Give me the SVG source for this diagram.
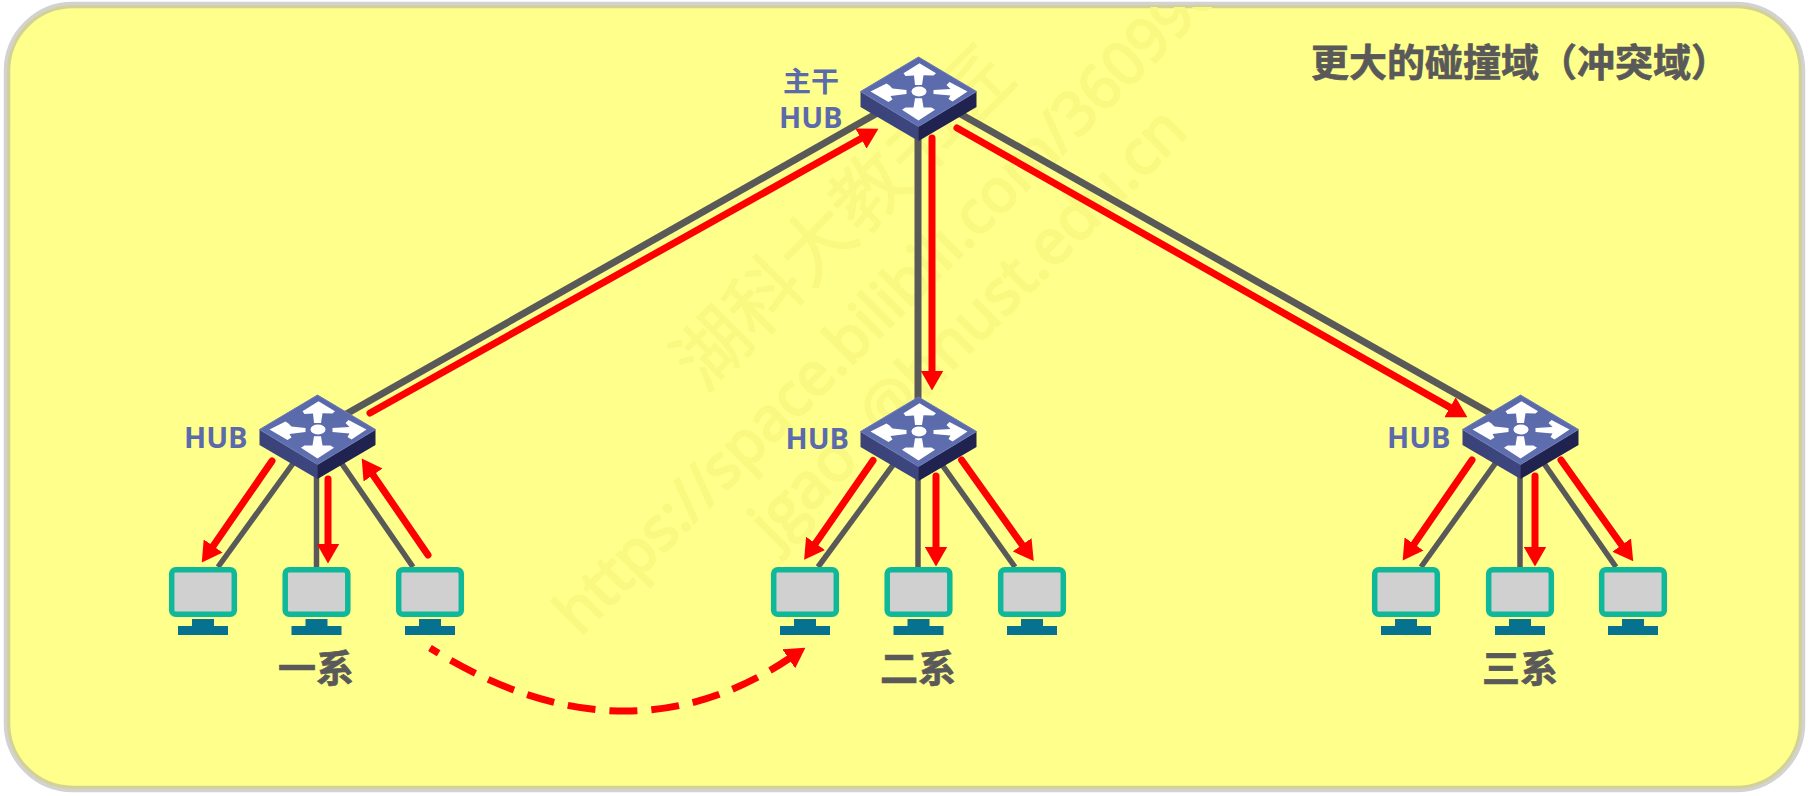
<svg xmlns="http://www.w3.org/2000/svg" width="1809" height="796" viewBox="0 0 1809 796">
<style>
.wm{fill:#f9f982;stroke:#f9f982;stroke-width:2.5;font-family:"Open Sans","Noto Sans",sans-serif;font-size:62px;font-weight:400}
.wmc{fill:#f9f982;stroke:#f9f982;stroke-width:1;font-family:"Noto Sans CJK SC",sans-serif;font-size:74px;font-weight:400}
.gl{stroke:#595959;stroke-width:5.5;fill:none}
.gt{stroke:#595959;stroke-width:7;fill:none}
.rl{stroke:#ff0000;stroke-width:7;fill:none;stroke-linecap:round;marker-end:url(#ah)}
.rd{stroke:#ff0000;stroke-width:7;fill:none;stroke-dasharray:28 14;stroke-dashoffset:18;marker-end:url(#ah)}
.hl{fill:#5b6aab;font-family:"Open Sans","Noto Sans",sans-serif;font-weight:700;font-size:29px}
.hc{fill:#5b6aab;font-family:"Noto Sans CJK SC",sans-serif;font-weight:700;font-size:28px}
.tt{fill:#595959;stroke:#595959;stroke-width:0.7;font-family:"Noto Sans CJK SC",sans-serif;font-weight:700;font-size:38px}
</style>
<defs>
<marker id="ah" markerUnits="userSpaceOnUse" markerWidth="21" markerHeight="23" refX="1.5" refY="11.5" orient="auto"><path d="M0,0 L20,11.5 L0,23 Z" fill="#ff0000"/></marker>
<clipPath id="inner"><rect x="7" y="7" width="1795" height="782" rx="66" ry="66"/></clipPath>
<linearGradient id="hf" x1="0" y1="0" x2="0" y2="1"><stop offset="0" stop-color="#5868a8"/><stop offset="1" stop-color="#5f6fb0"/></linearGradient>
<linearGradient id="hs" x1="0" y1="0" x2="1" y2="0"><stop offset="0" stop-color="#3a4278"/><stop offset="1" stop-color="#3e4680"/></linearGradient>
<g id="hub">
<path d="M-58,34.5 L0,69.5 L0,84 L-58,50 Z" fill="url(#hs)"/>
<path d="M58,34.5 L0,69.5 L0,84 L58,50 Z" fill="#20224f"/>
<path d="M0,0 L58,34.5 L0,69.5 L-58,34.5 Z" fill="url(#hf)" stroke="#6b7ab8" stroke-width="1"/>
<g transform="translate(0,34.5)" fill="#ffffff">
<ellipse cx="0.5" cy="0" rx="7.5" ry="5"/>
<path d="M1,-28.3 L17.5,-18.3 L15,-16 L5,-16.3 L3.5,-6.5 L-3.5,-6.5 L-4.5,-16 L-13,-15.5 L-15,-18.3 Z"/>
<path d="M0,29 L16.5,18.3 L13,16 L5,16 L3.5,6.7 L-3.5,6.7 L-5,16 L-13,16 L-16.5,18.3 Z"/>
<path d="M-48,0 L-32,-8 L-29,-6 L-26,-3 L-12,-1.5 L-12,2.5 L-28,4.5 L-26,8 L-30,10.5 Z"/>
<path d="M49,0 L31,-9.5 L28,-6.5 L32,-2.5 L15,-1.5 L15,2.5 L32,4 L30,7.5 L34,10 Z"/>
</g>
</g>
<g id="pc">
<rect x="-31.3" y="2.7" width="62.6" height="44.6" rx="4" fill="#d0d0d0" stroke="#10b89a" stroke-width="5.5"/>
<rect x="-11" y="52" width="22" height="8" fill="#06728f"/>
<rect x="-25" y="59" width="50" height="9" fill="#06728f"/>
</g>
</defs>
<rect id="background" x="7" y="5" width="1795" height="784" rx="66" ry="66" fill="#ffff8b" stroke="#a6a6a6" stroke-opacity="0.5" stroke-width="6.5"/>
<g id="watermark" clip-path="url(#inner)">
<text class="wmc" transform="translate(704.5,393.5) rotate(-45)">湖科大教书匠</text>
<text class="wm" style="font-size:60px" transform="translate(580,637) rotate(-45)">https://space.bilibili.com/360996</text>
<text class="wm" style="word-spacing:17px" transform="translate(775,548) rotate(-45)">jgao @hnust.edu.cn</text>
</g>
<g id="connectors">
<path class="gt" d="M918,90 L318,430"/>
<path class="gt" d="M918,90 L918,430"/>
<path class="gt" d="M918,90 L1520,430"/>
<path class="gl" d="M318,429 L218,567"/>
<path class="gl" d="M316.5,440 L316.5,567"/>
<path class="gl" d="M318,429 L413,567"/>
<path class="gl" d="M918,431 L818,567"/>
<path class="gl" d="M918,440 L918,567"/>
<path class="gl" d="M918,431 L1015,567"/>
<path class="gl" d="M1520,429 L1421,567"/>
<path class="gl" d="M1520,440 L1520,567"/>
<path class="gl" d="M1520,429 L1616,567"/>
<path class="rl" d="M370,413 L862.3,137.8"/>
<path class="rl" d="M932,138 L932,372"/>
<path class="rl" d="M957,128 L1451.3,408.1"/>
<path class="rl" d="M272,461 L212.3,547.2"/>
<path class="rl" d="M328,479 L328,545"/>
<path class="rl" d="M428,555 L372.2,473.8"/>
<path class="rl" d="M873,460.5 L814.7,544.6"/>
<path class="rl" d="M936,476 L936,548"/>
<path class="rl" d="M961.6,460 L1023,546"/>
<path class="rl" d="M1472,460 L1413.2,545.2"/>
<path class="rl" d="M1535,476 L1535,548"/>
<path class="rl" d="M1561,460 L1622.5,546.3"/>
<path class="rd" d="M430,648 Q624,769 790,658"/>
</g>
<g id="hub-main"><use href="#hub" x="918.5" y="57"/><text class="hc" x="783" y="92">主干</text><text class="hl" x="779" y="128">HUB</text></g>
<g id="hub-1"><use href="#hub" x="317.5" y="395"/><text class="hl" x="184" y="448">HUB</text></g>
<g id="hub-2"><use href="#hub" x="918.5" y="397"/><text class="hl" x="785.5" y="449">HUB</text></g>
<g id="hub-3"><use href="#hub" x="1520.5" y="395"/><text class="hl" x="1387" y="448">HUB</text></g>
<g id="pc-1-1"><use href="#pc" x="203" y="567"/></g>
<g id="pc-1-2"><use href="#pc" x="316.5" y="567"/></g>
<g id="pc-1-3"><use href="#pc" x="430" y="567"/></g>
<g id="pc-2-1"><use href="#pc" x="805" y="567"/></g>
<g id="pc-2-2"><use href="#pc" x="918.5" y="567"/></g>
<g id="pc-2-3"><use href="#pc" x="1032" y="567"/></g>
<g id="pc-3-1"><use href="#pc" x="1406" y="567"/></g>
<g id="pc-3-2"><use href="#pc" x="1520" y="567"/></g>
<g id="pc-3-3"><use href="#pc" x="1633" y="567"/></g>
<g id="labels">
<text class="tt" x="316" y="682" text-anchor="middle">一系</text>
<text class="tt" x="918" y="682" text-anchor="middle">二系</text>
<text class="tt" x="1520" y="682" text-anchor="middle">三系</text>
<text class="tt" x="1311" y="76">更大的碰撞域（冲突域）</text>
</g>
</svg>
